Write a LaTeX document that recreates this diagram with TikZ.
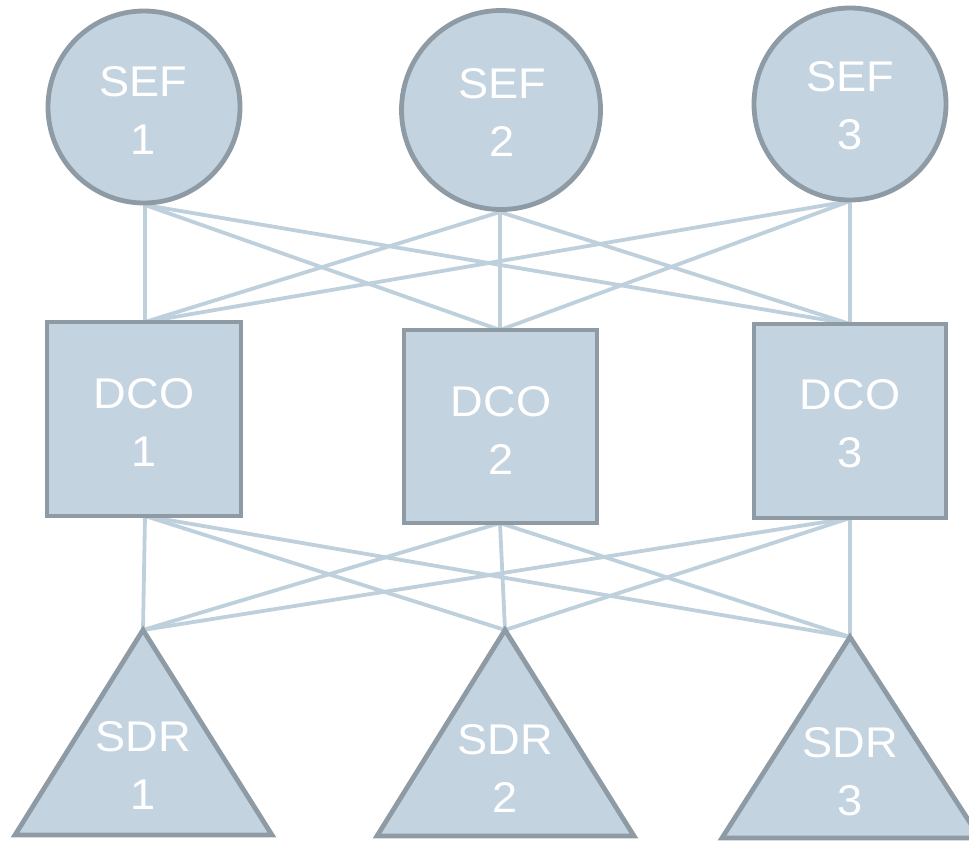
\documentclass[tikz,border=0pt]{standalone}
\usepackage{fontspec}
\setmainfont{Liberation Sans}[FakeStretch=1.05]
\definecolor{nodefill}{HTML}{C3D3E0}
\definecolor{nodeedge}{HTML}{8E9BA5}
\definecolor{linkcol}{HTML}{BFD0DD}
\begin{document}
\begin{tikzpicture}[x=1pt,y=-1pt,
  shapestyle/.style={fill=nodefill,draw=nodeedge,line width=4.8pt,line join=miter},
  linkstyle/.style={draw=linkcol,line width=3.8pt},
  labelstyle/.style={text=white,font=\fontsize{43}{58}\selectfont,align=center,inner sep=0pt}]
\useasboundingbox (0,0) rectangle (969,843);
\clip (0,0) rectangle (969,843);
% anchor coordinates
\coordinate (s1b) at (145,205);
\coordinate (s2b) at (500,212);
\coordinate (s3b) at (850,201);
\coordinate (d1t) at (145,322);
\coordinate (d2t) at (500,330);
\coordinate (d3t) at (850,324);
\coordinate (d1b) at (145,516);
\coordinate (d2b) at (500,523);
\coordinate (d3b) at (850,518);
\coordinate (r1t) at (143,630);
\coordinate (r2t) at (505,630);
\coordinate (r3t) at (850,637);
% links
\foreach \a in {s1b,s2b,s3b}{\foreach \b in {d1t,d2t,d3t}{\draw[linkstyle] (\a) -- (\b);}}
\foreach \a in {d1b,d2b,d3b}{\foreach \b in {r1t,r2t,r3t}{\draw[linkstyle] (\a) -- (\b);}}
% SEF circles
\draw[shapestyle] (144,107) circle (96);
\draw[shapestyle] (501,110) circle (99.5);
\draw[shapestyle] (850,104) circle (96);
% DCO squares
\draw[shapestyle] (47,322) rectangle (241,516);
\draw[shapestyle] (404,330) rectangle (597,523);
\draw[shapestyle] (754,324) rectangle (946,518);
% SDR triangles
\draw[shapestyle] (r1t) -- (272,835) -- (15,835) -- cycle;
\draw[shapestyle] (r2t) -- (634,836) -- (377,836) -- cycle;
\draw[shapestyle] (r3t) -- (980,838) -- (722,838) -- cycle;
% labels
\node[labelstyle] (sef1) at (143,110) {SEF\\1};
\node[labelstyle] (sef2) at (502,112) {SEF\\2};
\node[labelstyle] (sef3) at (850,106) {SEF\\3};
\node[labelstyle] (dco1) at (144,422) {DCO\\1};
\node[labelstyle] (dco2) at (501,430) {DCO\\2};
\node[labelstyle] (dco3) at (850,424) {DCO\\3};
\node[labelstyle] (sdr1) at (143,765) {SDR\\1};
\node[labelstyle] (sdr2) at (505,768) {SDR\\2};
\node[labelstyle] (sdr3) at (850,772) {SDR\\3};
\end{tikzpicture}
\end{document}
